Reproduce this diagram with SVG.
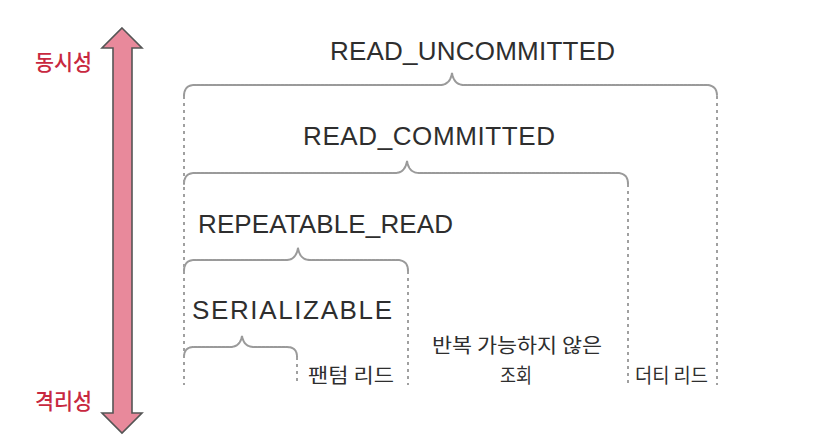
<svg xmlns="http://www.w3.org/2000/svg" width="817" height="444" viewBox="0 0 817 444">
<style>
.lvl{font-family:"Liberation Sans","DejaVu Sans",sans-serif;font-size:26px;fill:#2e2e2e;}
.kr{font-family:"Noto Sans CJK KR","Noto Sans",sans-serif;font-size:20px;fill:#2e2e2e;}
.axis{font-family:"Noto Sans CJK KR","Noto Sans",sans-serif;font-size:22px;fill:#c8283f;font-weight:500;}
.brace{fill:none;stroke:#9a9a9a;stroke-width:2;stroke-dasharray:3 1;stroke-linecap:round;}
.vline{fill:none;stroke:#a0a0a0;stroke-width:2;stroke-dasharray:3 4;}
</style>
<rect width="817" height="444" fill="#ffffff"/>
<g id="axis">
<path d="M122,28 L142,48 L132,48 L132,413 L142,413 L122,433 L102,413 L113,413 L113,48 L102,48 Z" fill="#e8899b" stroke="#555555" stroke-width="1.6" stroke-linejoin="miter"/>
<text class="axis" x="35" y="70" textLength="57" lengthAdjust="spacingAndGlyphs">동시성</text>
<text class="axis" x="35" y="409" textLength="57" lengthAdjust="spacingAndGlyphs">격리성</text>
</g>
<g id="connectors">
<path class="brace" d="M184,96 Q184,85 195,85 L440,85 Q450,85 452,73 Q454,85 464,85 L706,85 Q717,85 717,96"/>
<path class="brace" d="M184,184 Q184,173 195,173 L395,173 Q405,173 407,161 Q409,173 419,173 L617,173 Q628,173 628,184"/>
<path class="brace" d="M184,271 Q184,260 195,260 L286,260 Q296,260 298,248 Q300,260 310,260 L397,260 Q408,260 408,271"/>
<path class="brace" d="M184,357 Q184,347 194,347 L230,347 Q240,347 242,336 Q244,347 254,347 L287,347 Q297,347 297,357"/>
<path class="vline" d="M184,96 V385 M717,96 V385 M628,184 V385 M408,271 V385 M297,357 V385"/>
</g>
<g id="read-uncommitted">
<text class="lvl" x="330" y="60" textLength="285" lengthAdjust="spacing">READ_UNCOMMITTED</text>
</g>
<g id="read-committed">
<text class="lvl" x="303" y="145" textLength="252" lengthAdjust="spacing">READ_COMMITTED</text>
</g>
<g id="repeatable-read">
<text class="lvl" x="198" y="233" textLength="255" lengthAdjust="spacing">REPEATABLE_READ</text>
</g>
<g id="serializable">
<text class="lvl" x="192" y="319" textLength="200" lengthAdjust="spacing">SERIALIZABLE</text>
</g>
<g id="phantom-read">
<text class="kr" x="308" y="383" textLength="86" lengthAdjust="spacingAndGlyphs">팬텀 리드</text>
</g>
<g id="non-repeatable-read">
<text class="kr" x="432" y="353" textLength="170" lengthAdjust="spacingAndGlyphs">반복 가능하지 않은</text>
<text class="kr" x="500" y="383" textLength="32" lengthAdjust="spacingAndGlyphs">조회</text>
</g>
<g id="dirty-read">
<text class="kr" x="635" y="383" textLength="73" lengthAdjust="spacingAndGlyphs">더티 리드</text>
</g>
</svg>
